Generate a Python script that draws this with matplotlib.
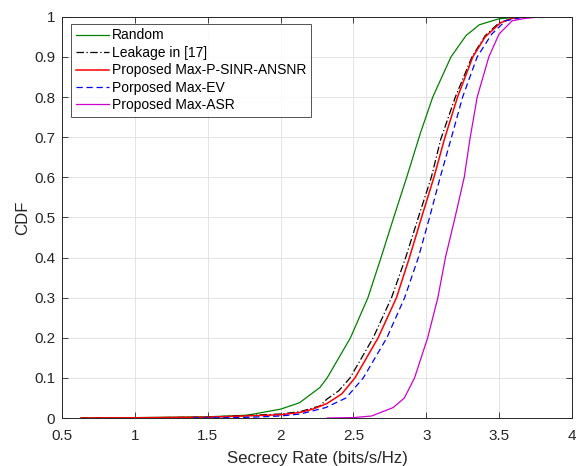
import matplotlib
matplotlib.use("Agg")
import matplotlib.pyplot as plt

# CDF curves (secrecy rate in bits/s/Hz vs CDF)
random_x = [0.63, 1.0, 1.5, 1.77, 2.0, 2.13, 2.27, 2.32, 2.40, 2.48, 2.60, 2.69, 2.777,
            2.866, 2.96, 3.045, 3.17, 3.273, 3.364, 3.5, 3.636, 3.70]
random_y = [0, 0.001, 0.003, 0.007, 0.022, 0.038, 0.076, 0.1, 0.15, 0.2, 0.3, 0.4, 0.5,
            0.6, 0.71, 0.8, 0.9, 0.953, 0.98, 0.995, 0.999, 1.0]

leak_x = [0.63, 1.0, 1.5, 2.0, 2.136, 2.27, 2.318, 2.40, 2.477, 2.636, 2.762, 2.859, 2.946,
          3.035, 3.10, 3.2, 3.314, 3.405, 3.5, 3.6, 3.68]
leak_y = [0, 0.0005, 0.002, 0.01, 0.016, 0.03, 0.047, 0.068, 0.1, 0.2, 0.3, 0.4, 0.5,
          0.6, 0.695, 0.8, 0.9, 0.953, 0.985, 0.997, 1.0]

sinr_x = [0.63, 1.0, 1.5, 2.0, 2.136, 2.22, 2.318, 2.42, 2.511, 2.67, 2.796, 2.885, 2.968,
          3.053, 3.125, 3.215, 3.32, 3.405, 3.51, 3.6, 3.70]
sinr_y = [0, 0.0005, 0.002, 0.008, 0.014, 0.022, 0.036, 0.06, 0.1, 0.2, 0.3, 0.4, 0.5,
          0.6, 0.695, 0.8, 0.9, 0.95, 0.985, 0.997, 1.0]

ev_x = [1.4, 1.6, 1.8, 2.0, 2.136, 2.31, 2.45, 2.568, 2.73, 2.852, 2.946, 3.023, 3.096,
        3.17, 3.25, 3.35, 3.45, 3.545, 3.65, 3.73]
ev_y = [0, 0.0005, 0.002, 0.005, 0.01, 0.026, 0.05, 0.1, 0.2, 0.3, 0.4, 0.5, 0.6,
        0.695, 0.8, 0.9, 0.957, 0.99, 0.998, 1.0]

asr_x = [2.32, 2.5, 2.625, 2.773, 2.85, 2.92, 3.01, 3.08, 3.132, 3.198, 3.261, 3.3, 3.35,
         3.43, 3.5, 3.59, 3.68, 3.79]
asr_y = [0, 0.001, 0.005, 0.026, 0.05, 0.1, 0.2, 0.3, 0.4, 0.5, 0.6, 0.695, 0.8,
         0.9, 0.957, 0.99, 0.996, 1.0]

labels = ["Random", "Leakage in [17]", "Proposed Max-P-SINR-ANSNR",
          "Porposed Max-EV", "Proposed Max-ASR"]

plt.rcParams['font.family'] = ['Liberation Sans', 'DejaVu Sans']

fig = plt.figure(figsize=[5.8, 4.66], dpi=100)
ax = fig.add_axes([0.107, 0.103, 0.879, 0.861])

ax.plot(random_x, random_y, color="#008000", lw=0.9, label=labels[0])
ax.plot(leak_x, leak_y, color="black", lw=0.9, linestyle=(0, (6, 2, 1, 2)), label=labels[1])
ax.plot(sinr_x, sinr_y, color="red", lw=1.1, label=labels[2])
ax.plot(ev_x, ev_y, color="blue", lw=0.9, linestyle=(0, (5, 3)), label=labels[3])
ax.plot(asr_x, asr_y, color="#cc00cc", lw=0.9, label=labels[4])

ax.set_xlim(0.5, 4)
ax.set_ylim(0, 1)
ax.set_xticks([0.5, 1, 1.5, 2, 2.5, 3, 3.5, 4])
ax.set_xticklabels(["0.5", "1", "1.5", "2", "2.5", "3", "3.5", "4"])
ax.set_yticks([i / 10 for i in range(11)])
ax.set_yticklabels(["0", "0.1", "0.2", "0.3", "0.4", "0.5", "0.6", "0.7", "0.8", "0.9", "1"])
ax.grid(True, color="#e3e3e3", lw=0.7)
ax.set_axisbelow(True)
ax.tick_params(direction="in", top=True, right=True, labelsize=11, length=4,
               width=0.6, color="#262626", labelcolor="#262626")
ax.tick_params(axis="x", pad=8)
ax.tick_params(axis="y", pad=5)
for s in ax.spines.values():
    s.set_color("#262626")
    s.set_linewidth(0.7)

ax.set_xlabel("Secrecy Rate (bits/s/Hz)", fontsize=12.1, color="#262626", labelpad=6)
ax.set_ylabel("CDF", fontsize=12.1, color="#262626", labelpad=3)

leg = ax.legend(loc="upper left", bbox_to_anchor=(0.012, 0.99), fontsize=10,
                fancybox=False, edgecolor="#262626", handlelength=2.4,
                handletextpad=0.2, labelspacing=0.25, borderpad=0.35, borderaxespad=0.2)
leg.get_frame().set_linewidth(0.7)

plt.savefig("out.png", dpi=100)
